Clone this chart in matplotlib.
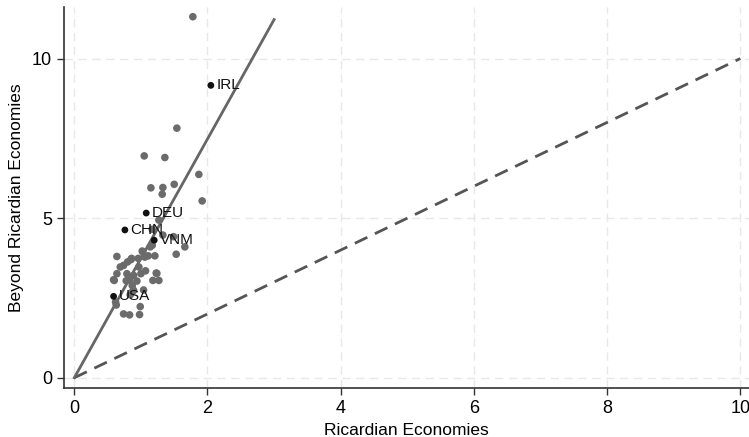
import matplotlib
matplotlib.use('Agg')
import matplotlib.pyplot as plt
from matplotlib import font_manager

# pick a narrow sans if present (Stata-like look)
names = set(f.name for f in font_manager.fontManager.ttflist)
fam = 'Liberation Sans Narrow' if 'Liberation Sans Narrow' in names else 'Liberation Sans'
plt.rcParams['font.family'] = [fam, 'DejaVu Sans']

# gray points: (Ricardian, Beyond Ricardian)
ric = [1.78, 1.54, 1.05, 1.36, 1.87, 1.15, 1.33, 1.50, 1.32, 1.92,
       1.27, 1.17, 1.33, 1.49, 1.14, 1.66, 1.03, 1.53, 1.11, 1.21,
       0.86, 0.96, 1.06, 0.64, 0.85, 0.80, 0.74, 0.69, 0.97, 0.64,
       0.79, 0.89, 1.00, 1.23, 0.59, 0.83, 0.94, 1.18, 1.27, 0.87,
       0.89, 1.04, 0.84, 0.62, 0.74, 0.83, 0.98, 0.99, 1.07, 1.24,
       0.78, 0.88, 1.02, 1.17, 0.60, 0.63]
beyond = [11.31, 7.82, 6.95, 6.90, 6.37, 5.95, 5.96, 6.06, 5.75, 5.54,
          4.94, 4.65, 4.47, 4.42, 4.10, 4.10, 3.94, 3.87, 3.82, 3.82,
          3.74, 3.74, 3.78, 3.80, 3.70, 3.63, 3.52, 3.47, 3.47, 3.26,
          3.26, 3.21, 3.26, 3.28, 3.07, 3.07, 3.03, 3.05, 3.05, 2.89,
          2.74, 2.75, 2.60, 2.37, 2.00, 1.97, 1.98, 2.23, 3.35, 3.27,
          3.04, 2.72, 3.97, 4.15, 3.05, 2.28]

# highlighted countries
countries = ['IRL', 'DEU', 'CHN', 'VNM', 'USA']
ric_c = [2.05, 1.08, 0.76, 1.20, 0.59]
beyond_c = [9.16, 5.16, 4.63, 4.31, 2.55]

slope = 3.74  # fitted line through origin
fit_x = [0, 3]

fig = plt.figure(figsize=(7.49, 4.37), dpi=100)
ax = fig.add_axes([0.0854, 0.1114, 0.9146, 0.873])

ax.grid(True, color='#e8e8e8', linestyle=(0, (6, 4)), linewidth=1)
ax.set_axisbelow(True)

ax.plot([0, 10], [0, 10], color='#555555', linestyle=(0, (5, 3)), linewidth=2)
ax.plot(fit_x, [slope * v for v in fit_x], color='#666666', linewidth=2)

ax.scatter(ric, beyond, s=30, color='#6b6b6b', edgecolor='none', zorder=3)
ax.scatter(ric_c, beyond_c, s=24, color='#111111', edgecolor='none', zorder=4)
for name, xv, yv in zip(countries, ric_c, beyond_c):
    ax.annotate(name, (xv, yv), xytext=(4, 0), textcoords='offset points',
                va='center', ha='left', fontsize=11, color='#111111', zorder=5)

ax.set_xlim(-0.155, 10.13)
ax.set_ylim(-0.33, 11.62)
ax.set_xticks([0, 2, 4, 6, 8, 10])
ax.set_yticks([0, 5, 10])
ax.tick_params(labelsize=13, length=5, width=1, color='#333333', direction='out')

for s in ['top', 'right']:
    ax.spines[s].set_visible(False)
for s in ['left', 'bottom']:
    ax.spines[s].set_color('#333333')
    ax.spines[s].set_linewidth(1.2)

ax.set_xlabel('Ricardian Economies', fontsize=12.5, labelpad=4)
ax.set_ylabel('Beyond Ricardian Economies', fontsize=12.5, labelpad=6)

fig.savefig('out.png', dpi=100)
